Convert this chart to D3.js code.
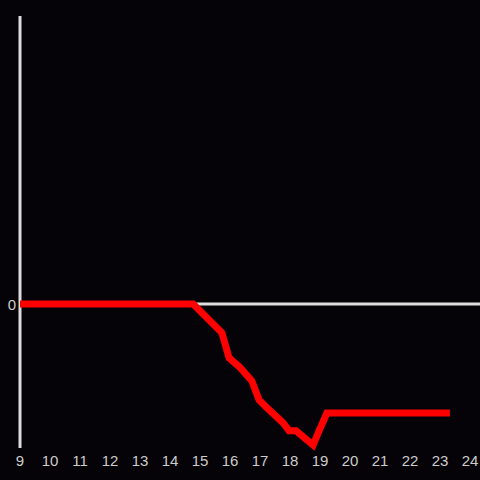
<!DOCTYPE html>
<html>
<head>
<meta charset="utf-8">
<script src="https://cdn.jsdelivr.net/npm/d3@7"></script>
<style>
  body { margin: 0; background: #050307; }
  svg { display: block; }
</style>
</head>
<body>
<div id="chart"></div>
<script>
// hours of day and values (relative units)
var hours = [9, 14.77, 15.73, 15.97, 16.33, 16.73, 16.97, 17.23, 17.77, 17.97, 18.2, 18.77, 18.93, 19.23, 23.33]
var values = [0, 0, -0.2, -0.375, -0.44, -0.535, -0.667, -0.72, -0.826, -0.88, -0.88, -0.98, -0.9, -0.757, -0.757]
var xTicks = [9, 10, 11, 12, 13, 14, 15, 16, 17, 18, 19, 20, 21, 22, 23, 24]
var yTicks = [0]

var width = 480, height = 480

var svg = d3.select('#chart')
  .append('svg')
  .attr('width', width)
  .attr('height', height)

svg.append('rect')
  .attr('width', width)
  .attr('height', height)
  .attr('fill', '#050307')

var x = d3.scaleLinear().domain([9, 24]).range([20, 470])
var y = d3.scaleLinear().domain([-1, 2]).range([448, 16])

// zero line
svg.append('line')
  .attr('x1', x(9))
  .attr('x2', 480)
  .attr('y1', y(0))
  .attr('y2', y(0))
  .attr('stroke', '#dddddd')
  .attr('stroke-width', 3)

// y axis line
svg.append('line')
  .attr('x1', x(9))
  .attr('x2', x(9))
  .attr('y1', y(2))
  .attr('y2', y(-1))
  .attr('stroke', '#dddddd')
  .attr('stroke-width', 3)

svg.selectAll('.xlab')
  .data(xTicks)
  .enter()
  .append('text')
  .attr('class', 'xlab')
  .attr('x', function(d) { return x(d) })
  .attr('y', 466)
  .attr('text-anchor', 'middle')
  .attr('fill', '#cccccc')
  .style('font-family', 'Liberation Sans, Arial, sans-serif')
  .style('font-size', '15px')
  .text(function(d) { return d })

svg.selectAll('.ylab')
  .data(yTicks)
  .enter()
  .append('text')
  .attr('class', 'ylab')
  .attr('x', 16)
  .attr('y', function(d) { return y(d) + 6 })
  .attr('text-anchor', 'end')
  .attr('fill', '#cccccc')
  .style('font-family', 'Liberation Sans, Arial, sans-serif')
  .style('font-size', '15px')
  .text(function(d) { return d })

var line = d3.line()
  .x(function(d, i) { return x(hours[i]) })
  .y(function(d) { return y(d) })

svg.append('path')
  .datum(values)
  .attr('d', line)
  .attr('fill', 'none')
  .attr('stroke', '#ff0000')
  .attr('stroke-width', 7)
  .attr('stroke-linejoin', 'miter')
</script>
</body>
</html>
